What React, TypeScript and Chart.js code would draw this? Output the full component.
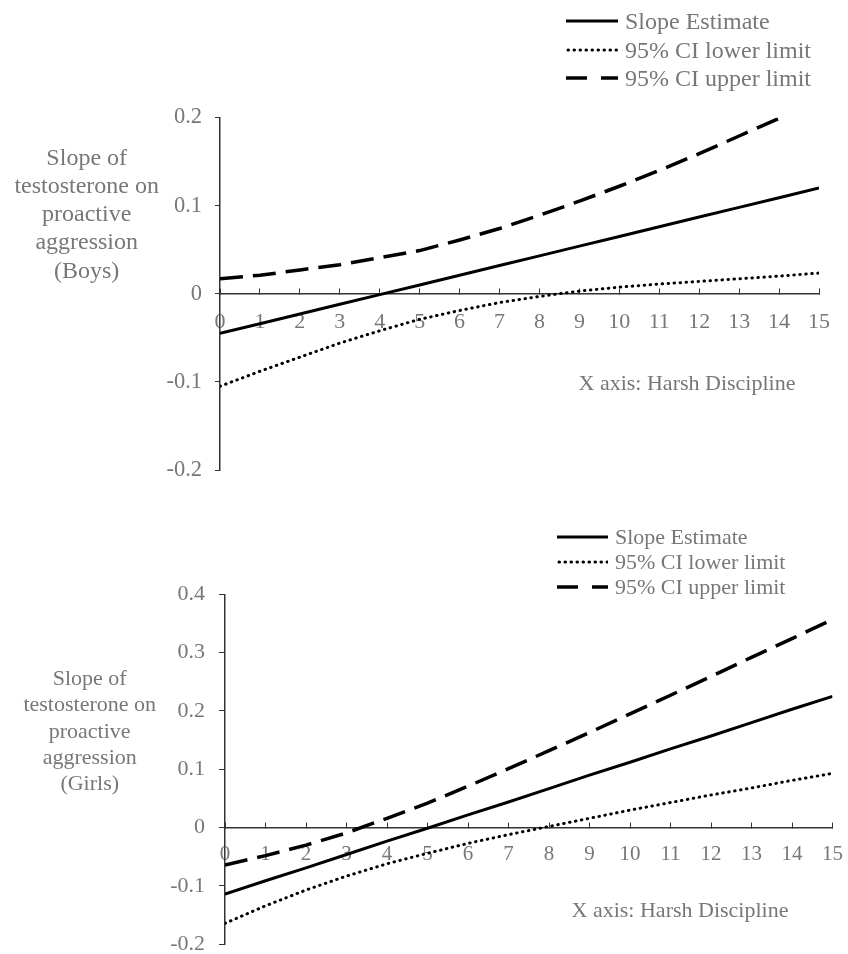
import React, { useEffect, useRef } from "react";
import { Chart, registerables } from "chart.js";

Chart.register(...registerables);

// ---------- data ----------
const xValues = [0, 1, 2, 3, 4, 5, 6, 7, 8, 9, 10, 11, 12, 13, 14, 15];
const xTicks = [0, 1, 2, 3, 4, 5, 6, 7, 8, 9, 10, 11, 12, 13, 14, 15];

const boysEstimate = [-0.045, -0.034, -0.023, -0.012, -0.001, 0.01, 0.021, 0.032, 0.043, 0.054, 0.065, 0.076, 0.087, 0.098, 0.109, 0.12];
const boysLower = [-0.105, -0.088, -0.072, -0.056, -0.042, -0.029, -0.019, -0.01, -0.003, 0.003, 0.0075, 0.011, 0.014, 0.017, 0.02, 0.0235];
const boysUpper = [0.017, 0.021, 0.027, 0.033, 0.041, 0.049, 0.061, 0.074, 0.089, 0.105, 0.122, 0.14, 0.159, 0.179, 0.199, 0.219];
const boysYTicks = [-0.2, -0.1, 0, 0.1, 0.2];

const girlsEstimate = [-0.114, -0.091, -0.069, -0.046, -0.023, -0.001, 0.022, 0.044, 0.067, 0.09, 0.112, 0.135, 0.157, 0.18, 0.203, 0.225];
const girlsLower = [-0.164, -0.134, -0.107, -0.083, -0.062, -0.044, -0.027, -0.012, 0.002, 0.016, 0.03, 0.043, 0.056, 0.068, 0.081, 0.093];
const girlsUpper = [-0.064, -0.048, -0.03, -0.009, 0.016, 0.042, 0.071, 0.101, 0.132, 0.163, 0.195, 0.227, 0.259, 0.292, 0.324, 0.357];
const girlsYTicks = [-0.2, -0.1, 0, 0.1, 0.2, 0.3, 0.4];

const seriesNames = ["Slope Estimate", "95% CI lower limit", "95% CI upper limit"];
const boysTitle = ["Slope of", "testosterone on", "proactive", "aggression", "(Boys)"];
const girlsTitle = ["Slope of", "testosterone on", "proactive", "aggression", "(Girls)"];
const xTitle = "X axis: Harsh Discipline";

// ---------- styles ----------
const FONT = "'Liberation Serif', 'Times New Roman', Times, serif";
const GRAY = "#777777";
const AXIS = "#333333";
const W = 848;

type Area = { left: number; right: number; top: number; bottom: number };

type PanelProps = {
  top: number;
  height: number;
  area: Area;
  est: number[];
  lower: number[];
  upper: number[];
  yTicks: number[];
  yFont: number;
  xFont: number;
  yTickLen: number;
  yPad: number;
  xPad: number;
};

function fmt(v: number): string {
  const r = Math.round(v * 10) / 10;
  return r === 0 ? "0" : String(r);
}

function Panel(p: PanelProps) {
  const ref = useRef<HTMLCanvasElement | null>(null);
  useEffect(() => {
    if (!ref.current) return;
    const pts = (arr: number[]) => xValues.map((x, i) => ({ x, y: arr[i] }));
    const chart = new Chart(ref.current, {
      type: "line",
      data: {
        datasets: [
          {
            label: seriesNames[0],
            data: pts(p.est),
            borderColor: "#000",
            borderWidth: 3,
            pointRadius: 0,
            tension: 0,
            fill: false,
            clip: 0,
          },
          {
            label: seriesNames[1],
            data: pts(p.lower),
            borderColor: "#000",
            borderWidth: 3,
            borderDash: [0.5, 5.5],
            borderCapStyle: "round",
            pointRadius: 0,
            tension: 0,
            fill: false,
            clip: 0,
          },
          {
            label: seriesNames[2],
            data: pts(p.upper),
            borderColor: "#000",
            borderWidth: 3.5,
            borderDash: [23, 10],
            pointRadius: 0,
            tension: 0,
            fill: false,
            clip: 0,
          },
        ],
      } as any,
      options: {
        responsive: false,
        animation: false,
        events: [],
        layout: {
          autoPadding: false,
          padding: {
            left: 0,
            top: p.area.top,
            right: W - p.area.right,
            bottom: p.height - p.area.bottom,
          },
        },
        plugins: {
          legend: { display: false },
          tooltip: { enabled: false },
          title: { display: false },
        },
        scales: {
          x: {
            type: "linear",
            position: { y: 0 },
            min: 0,
            max: 15,
            afterBuildTicks: (s: any) => {
              s.ticks = xTicks.map((v) => ({ value: v }));
            },
            ticks: {
              autoSkip: false,
              maxRotation: 0,
              minRotation: 0,
              padding: p.xPad,
              color: GRAY,
              font: { family: FONT, size: p.xFont },
              callback: (v: any) => String(v),
            },
            grid: {
              drawOnChartArea: false,
              drawTicks: true,
              tickLength: -6,
              color: AXIS,
              lineWidth: 1,
            },
            border: { display: true, color: AXIS, width: 1.5 },
            afterFit: (s: any) => {
              s.height = 0;
              s.paddingLeft = 0;
              s.paddingRight = 0;
              s.paddingTop = 0;
              s.paddingBottom = 0;
            },
          },
          y: {
            type: "linear",
            position: "left",
            min: p.yTicks[0],
            max: p.yTicks[p.yTicks.length - 1],
            afterBuildTicks: (s: any) => {
              s.ticks = p.yTicks.map((v) => ({ value: v }));
            },
            ticks: {
              padding: p.yPad,
              color: GRAY,
              font: { family: FONT, size: p.yFont },
              callback: (v: any) => fmt(Number(v)),
            },
            grid: {
              drawOnChartArea: false,
              drawTicks: true,
              tickLength: p.yTickLen,
              color: AXIS,
              lineWidth: 1,
            },
            border: { display: true, color: AXIS, width: 1.5 },
            afterFit: (s: any) => {
              s.width = p.area.left;
              s.paddingTop = 0;
              s.paddingBottom = 0;
              s.paddingLeft = 0;
              s.paddingRight = 0;
            },
          },
        },
      } as any,
    });
    return () => chart.destroy();
  }, []);
  return (
    <canvas
      ref={ref}
      width={W}
      height={p.height}
      style={{ position: "absolute", left: 0, top: p.top, width: W, height: p.height, display: "block" }}
    />
  );
}

type LegendProps = { lineLeft: number; lineWidth: number; textLeft: number; rows: number[]; font: number };

function Legend(l: LegendProps) {
  const lh = 26;
  const strokes = [
    { w: 3, dash: undefined as string | undefined, cap: "butt" as const },
    { w: 3, dash: "0.5 5.5", cap: "round" as const },
    { w: 3.5, dash: "21 14", cap: "butt" as const },
  ];
  return (
    <>
      {seriesNames.map((name, i) => (
        <React.Fragment key={name}>
          <svg
            width={l.lineWidth}
            height={8}
            style={{ position: "absolute", left: l.lineLeft, top: l.rows[i] - 4 }}
          >
            <line
              x1={strokes[i].cap === "round" ? 2 : 0}
              y1={4}
              x2={l.lineWidth}
              y2={4}
              stroke="#000"
              strokeWidth={strokes[i].w}
              strokeDasharray={strokes[i].dash}
              strokeLinecap={strokes[i].cap}
            />
          </svg>
          <div
            style={{
              position: "absolute",
              left: l.textLeft,
              top: l.rows[i] - lh / 2,
              height: lh,
              lineHeight: lh + "px",
              fontFamily: FONT,
              fontSize: l.font,
              color: GRAY,
              whiteSpace: "nowrap",
            }}
          >
            {name}
          </div>
        </React.Fragment>
      ))}
    </>
  );
}

function YTitle({ lines, cx, firstCy, spacing, font }: { lines: string[]; cx: number; firstCy: number; spacing: number; font: number }) {
  const w = 200;
  return (
    <div
      style={{
        position: "absolute",
        left: cx - w / 2,
        top: firstCy - spacing / 2,
        width: w,
        textAlign: "center",
        fontFamily: FONT,
        fontSize: font,
        lineHeight: spacing + "px",
        color: GRAY,
        whiteSpace: "nowrap",
      }}
    >
      {lines.map((t) => (
        <div key={t}>{t}</div>
      ))}
    </div>
  );
}

function XTitle({ cx, cy, font }: { cx: number; cy: number; font: number }) {
  const w = 300;
  return (
    <div
      style={{
        position: "absolute",
        left: cx - w / 2,
        top: cy - 15,
        width: w,
        height: 30,
        lineHeight: "30px",
        textAlign: "center",
        fontFamily: FONT,
        fontSize: font,
        color: GRAY,
        whiteSpace: "nowrap",
      }}
    >
      {xTitle}
    </div>
  );
}

export default function App() {
  return (
    <div style={{ position: "absolute", left: 0, top: 0, width: W, height: 954, background: "#fff", overflow: "hidden" }}>
      <Panel
        top={0}
        height={490}
        area={{ left: 220, right: 819, top: 117.5, bottom: 470 }}
        est={boysEstimate}
        lower={boysLower}
        upper={boysUpper}
        yTicks={boysYTicks}
        yFont={22.5}
        xFont={22}
        yTickLen={5}
        yPad={13}
        xPad={21}
      />
      <Panel
        top={490}
        height={464}
        area={{ left: 225, right: 832.5, top: 104.3, bottom: 454.3 }}
        est={girlsEstimate}
        lower={girlsLower}
        upper={girlsUpper}
        yTicks={girlsYTicks}
        yFont={22}
        xFont={21}
        yTickLen={6}
        yPad={14}
        xPad={20}
      />
      <Legend lineLeft={566} lineWidth={52} textLeft={625} rows={[20.7, 49.5, 78.3]} font={24} />
      <Legend lineLeft={557} lineWidth={51} textLeft={615} rows={[536.7, 561.7, 587.3]} font={22} />
      <YTitle lines={boysTitle} cx={86.7} firstCy={156.7} spacing={28.3} font={24} />
      <YTitle lines={girlsTitle} cx={89.7} firstCy={678.3} spacing={26.2} font={22} />
      <XTitle cx={687} cy={383} font={22} />
      <XTitle cx={680} cy={910} font={22} />
    </div>
  );
}
